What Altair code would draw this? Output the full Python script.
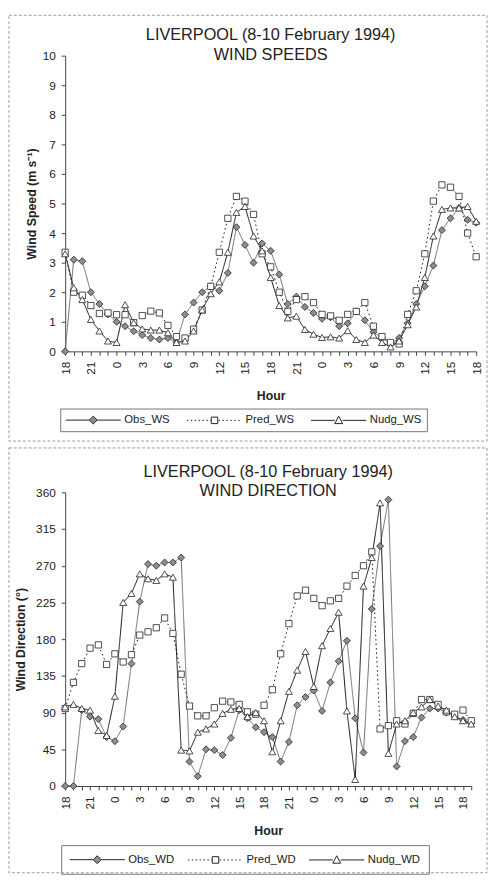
import altair as alt
import pandas as pd

# ---------------- data ----------------
hours_ws = list(range(49))          # 18:00 8 Feb -> 18:00 10 Feb
hours_wd = list(range(50))          # one extra hour in the direction panel
tick_hours = [0, 3, 6, 9, 12, 15, 18, 21, 24, 27, 30, 33, 36, 39, 42, 45, 48]
tick_labels = ["18", "21", "0", "3", "6", "9", "12", "15", "18",
               "21", "0", "3", "6", "9", "12", "15", "18"]

ws_names = ["Obs_WS", "Pred_WS", "Nudg_WS"]
wd_names = ["Obs_WD", "Pred_WD", "Nudg_WD"]

obs_ws = [0, 3.1, 3.05, 2.0, 1.6, 1.25, 1.0, 0.85, 0.68, 0.55, 0.45, 0.4, 0.45, 0.3,
          1.25, 1.65, 2.0, 2.2, 2.05, 2.65, 4.2, 3.6, 3.0, 3.65, 3.4, 2.6, 1.6, 1.85,
          1.5, 1.3, 1.1, 1.15, 0.85, 0.95, 1.35, 1.05, 0.65, 0.45, 0.25, 0.45, 0.95,
          1.6, 2.2, 2.9, 4.1, 4.5, 4.85, 4.45, 4.35]
pred_ws = [3.35, 2.0, 1.9, 1.55, 1.28, 1.3, 1.24, 1.24, 0.97, 1.21, 1.36, 1.3, 0.88,
           0.5, 0.45, 0.75, 1.4, 2.2, 3.35, 4.5, 5.24, 5.08, 4.63, 3.3, 2.86, 2.0,
           1.35, 1.75, 1.85, 1.65, 1.25, 1.2, 1.05, 1.25, 1.35, 1.65, 0.85, 0.5,
           0.3, 0.25, 1.25, 2.05, 3.3, 5.08, 5.63, 5.55, 5.24, 4.0, 3.2]
nudg_ws = [3.3, 2.15, 1.75, 1.08, 0.69, 0.35, 0.3, 1.58, 0.97, 0.76, 0.72, 0.72, 0.63,
           0.3, 0.35, 0.69, 1.4, 1.95, 2.35, 3.35, 4.7, 4.9, 3.9, 3.4, 2.5, 1.55,
           1.13, 1.19, 0.74, 0.58, 0.47, 0.49, 0.45, 0.7, 0.4, 0.3, 0.55, 0.3,
           0.15, 0.35, 0.9, 1.5, 2.5, 3.9, 4.8, 4.85, 4.85, 4.9, 4.4]

obs_wd = [0, 0, 93, 85, 82, 60, 55, 73, 150, 226, 272, 270, 274, 274, 280, 30, 12,
          45, 44, 38, 59, 93, 83, 72, 66, 60, 30, 54, 99, 109, 117, 92, 127, 153,
          178, 83, 41, 217, 294, 351, 24, 55, 60, 84, 95, 95, 90, 86, 81, 77]
pred_wd = [95, 127, 150, 169, 173, 149, 162, 152, 161, 185, 189, 194, 206, 187, 137,
           98, 86, 86, 96, 104, 103, 100, 91, 88, 99, 118, 162, 199, 233, 240, 230,
           221, 227, 230, 245, 258, 270, 287, 70, 74, 80, 76, 89, 106, 106, 100, 91,
           88, 93, 80]
nudg_wd = [97, 100, 95, 93, 68, 62, 110, 225, 236, 260, 254, 252, 260, 256, 44, 43,
           66, 70, 76, 89, 94, 95, 85, 90, 80, 42, 80, 116, 142, 165, 122, 172, 193,
           213, 92, 8, 245, 280, 347, 40, 76, 80, 90, 97, 106, 98, 93, 85, 80, 76]

# ---------------- styling ----------------
FONT = "Liberation Sans"
INK = "#222222"
line_colors = ["#6a6a6a", "#111111", "#111111"]
line_dashes = [[1, 0], [1.5, 3], [1, 0]]
marker_shapes = ["diamond", "square", "triangle-up"]
marker_fills = ["#8e8e8e", "white", "white"]
marker_sizes = [50, 40, 50]

# legend symbols: unit = 6 px (symbolSize 144); drawn from -1 to 8.33 units (56 px)
U0, U1, UC = -1.0, 8.33, 3.67


def dots(a, b, step=0.66, length=0.25):
    out, x = [], a
    while x < b - 1e-9:
        out.append(f"M{x:.3f},0L{min(x + length, b):.3f},0")
        x += step
    return "".join(out)


legend_paths = [
    f"M{U0},0L{UC-0.67:.2f},0M{UC+0.67:.2f},0L{U1},0"
    f"M{UC},-0.67L{UC+0.67:.2f},0L{UC},0.67L{UC-0.67:.2f},0Z",
    dots(U0, UC - 0.6) + dots(UC + 0.7, U1) +
    f"M{UC-0.55:.2f},-0.55L{UC+0.55:.2f},-0.55L{UC+0.55:.2f},0.55L{UC-0.55:.2f},0.55Z",
    f"M{U0},0L{UC-0.67:.2f},0M{UC+0.67:.2f},0L{U1},0"
    f"M{UC},-0.7L{UC+0.67:.2f},0.55L{UC-0.67:.2f},0.55Z",
]


def long_df(hours, names, series):
    rows = []
    for name, vals in zip(names, series):
        for h, v in zip(hours, vals):
            rows.append({"series": name, "hour": h, "value": v})
    return pd.DataFrame(rows)


def label_expr(hours):
    arr = ["" for _ in hours]
    for h, lab in zip(tick_hours, tick_labels):
        if h < len(arr):
            arr[h] = lab
    return "[" + ",".join(f"'{s}'" for s in arr) + "][datum.value]"


def panel(hours, names, series, ymax, ystep, ytitle, title2, width, height,
          x_domain, ytitle_pad, legend_x, legend_y, legend_pad, legend_colpad,
          frame, title_offset):
    df = long_df(hours, names, series)
    x = alt.X("hour:Q", scale=alt.Scale(domain=x_domain, nice=False, zero=False),
              axis=alt.Axis(values=hours, labelExpr=label_expr(hours), labelAngle=270,
                            labelOverlap=False, labelFlush=False, grid=False,
                            tickSize=4, labelPadding=6, title="Hour",
                            titlePadding=16))
    y = alt.Y("value:Q", scale=alt.Scale(domain=[0, ymax], nice=False),
              axis=alt.Axis(values=list(range(0, ymax + 1, ystep)), grid=False,
                            tickSize=4, labelPadding=6, title=ytitle,
                            titlePadding=ytitle_pad))
    fx0, fx1, fy0, fy1 = frame
    frame_layer = alt.Chart(pd.DataFrame({"frame": [0]})).mark_rect(
        fillOpacity=0, stroke="#9a9a9a", strokeWidth=1, strokeDash=[3, 2]
    ).encode(x=alt.value(fx0), x2=alt.value(fx1), y=alt.value(fy0), y2=alt.value(fy1))
    layers = [frame_layer]
    for i, name in enumerate(names):
        base = alt.Chart(df).transform_filter(alt.datum.series == name)
        layers.append(base.mark_line(color=line_colors[i], strokeWidth=1,
                                     strokeDash=line_dashes[i]).encode(x=x, y=y))
    for i, name in enumerate(names):
        base = alt.Chart(df).transform_filter(alt.datum.series == name)
        layers.append(base.mark_point(shape=marker_shapes[i], size=marker_sizes[i],
                                      filled=True, fill=marker_fills[i],
                                      stroke="#222222", strokeWidth=0.8,
                                      opacity=1).encode(x=x, y=y))
    leg = alt.Legend(orient="none", legendX=legend_x, legendY=legend_y,
                     direction="horizontal", title=None, symbolSize=144,
                     symbolStrokeWidth=1, symbolOpacity=1,
                     labelFont=FONT, labelFontSize=11.5, labelColor=INK,
                     strokeColor="#777777", padding=legend_pad,
                     columnPadding=legend_colpad, labelOffset=47)
    legend_df = pd.DataFrame({"entry": names})
    legend_layer = alt.Chart(legend_df).mark_point(filled=True, opacity=0).encode(
        shape=alt.Shape("entry:N", sort=names,
                        scale=alt.Scale(domain=names, range=legend_paths), legend=leg),
        fill=alt.Fill("entry:N", sort=names,
                      scale=alt.Scale(domain=names, range=marker_fills), legend=leg),
        stroke=alt.Stroke("entry:N", sort=names,
                          scale=alt.Scale(domain=names, range=["#222222"] * 3),
                          legend=leg),
    )
    layers.append(legend_layer)
    return alt.layer(*layers).properties(
        width=width, height=height,
        title=alt.TitleParams(["LIVERPOOL (8-10 February 1994)", title2],
                              anchor="middle", frame="group", offset=title_offset,
                              fontSize=16.5, fontWeight="normal", font=FONT,
                              color=INK, lineHeight=20),
    )


top = panel(hours_ws, ws_names, [obs_ws, pred_ws, nudg_ws], 10, 1,
            "Wind Speed (m s⁻¹)", "WIND SPEEDS", 417, 300, [0, 48], 4,
            -5, 358, 5, 14, (-57, 428, -41, 391), -49)
bottom = panel(hours_wd, wd_names, [obs_wd, pred_wd, nudg_wd], 360, 45,
               "Wind Direction (°)", "WIND DIRECTION", 412, 298, [0, 49], 8,
               -4, 358, 8, 11, (-57, 428, -45, 386), -53)

chart = alt.concat(top, bottom, columns=1, align="none", spacing=5).resolve_scale(
    shape="independent", fill="independent", stroke="independent"
).properties(
    padding={"left": 0, "top": 0, "right": 0, "bottom": 0}
).configure(
    font=FONT,
).configure_view(
    stroke=None,
).configure_axis(
    labelFont=FONT, labelFontSize=12, labelColor=INK,
    titleFont=FONT, titleFontSize=12.5, titleFontWeight="bold", titleColor=INK,
    domainColor="#444444", tickColor="#444444", domainWidth=1, tickWidth=1,
)

chart.save("out.html", embed_options={"renderer": "svg", "actions": False})
